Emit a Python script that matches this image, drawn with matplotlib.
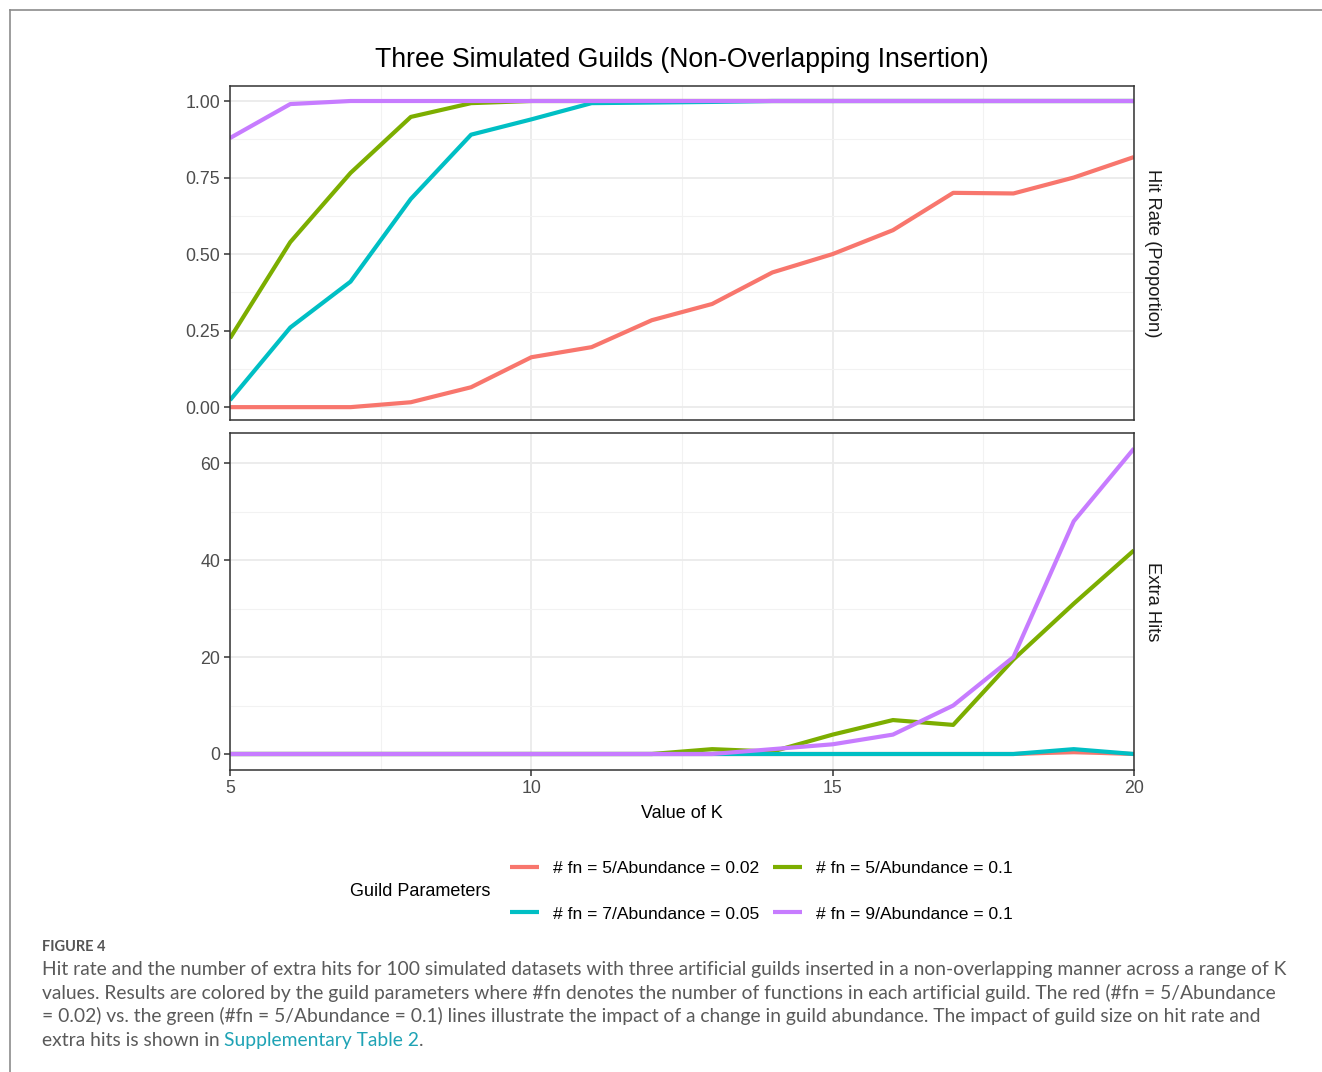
import matplotlib.pyplot as plt
from matplotlib.lines import Line2D
from matplotlib.ticker import MultipleLocator

plt.rcParams['font.family'] = ['Liberation Sans', 'DejaVu Sans']

k = list(range(5, 21))

labels = ['# fn = 5/Abundance = 0.02', '# fn = 5/Abundance = 0.1',
          '# fn = 7/Abundance = 0.05', '# fn = 9/Abundance = 0.1']
colors = ['#F8766D', '#7CAE00', '#00BFC4', '#C77CFF']

hit_red = [0, 0, 0, 0.016, 0.065, 0.163, 0.196, 0.284, 0.337, 0.44, 0.50, 0.578, 0.70, 0.698, 0.75, 0.817]
hit_green = [0.225, 0.539, 0.765, 0.948, 0.993, 1, 1, 1, 1, 1, 1, 1, 1, 1, 1, 1]
hit_cyan = [0.023, 0.26, 0.41, 0.68, 0.89, 0.94, 0.993, 0.995, 0.997, 1, 1, 1, 1, 1, 1, 1]
hit_purple = [0.879, 0.99, 1, 1, 1, 1, 1, 1, 1, 1, 1, 1, 1, 1, 1, 1]

ex_red = [0, 0, 0, 0, 0, 0, 0, 0, 0, 0, 0, 0, 0, 0, 0.4, 0]
ex_green = [0, 0, 0, 0, 0, 0, 0, 0, 1, 0.5, 4, 7, 6, 19.5, 31, 42]
ex_cyan = [0, 0, 0, 0, 0, 0, 0, 0, 0, 0, 0, 0, 0, 0, 1, 0]
ex_purple = [0, 0, 0, 0, 0, 0, 0, 0, 0, 1, 2, 4, 10, 20, 48, 63]

hits = [hit_red, hit_green, hit_cyan, hit_purple]
extras = [ex_red, ex_green, ex_cyan, ex_purple]

W, H = 1322, 1072
fig = plt.figure(figsize=(W / 100, H / 100), dpi=100)

def box(l, t, r, b):
    return [l / W, 1 - b / H, (r - l) / W, (b - t) / H]

ax1 = fig.add_axes(box(230, 86, 1134, 420))
ax2 = fig.add_axes(box(230, 433, 1134, 770))

def style(ax):
    ax.set_xlim(5, 20)
    ax.xaxis.set_major_locator(MultipleLocator(5))
    ax.xaxis.set_minor_locator(MultipleLocator(2.5))
    ax.grid(which='major', color='#EBEBEB', lw=1.3, zorder=0)
    ax.grid(which='minor', color='#F2F2F2', lw=0.8, zorder=0)
    ax.set_axisbelow(True)
    for s in ax.spines.values():
        s.set_color('#333333')
        s.set_linewidth(1.1)
    ax.tick_params(which='major', direction='out', length=4, width=1.1,
                   color='#333333', labelsize=12.8, labelcolor='#4D4D4D', pad=3)
    ax.tick_params(which='minor', length=0)

lines = []
for vals, c, lab in zip(hits, colors, labels):
    ln, = ax1.plot(k, vals, color=c, lw=3, label=lab, solid_capstyle='butt')
    lines.append(ln)
for vals, c in zip(extras, colors):
    ax2.plot(k, vals, color=c, lw=3, solid_capstyle='butt')

style(ax1)
style(ax2)
ax1.set_ylim(-0.042, 1.049)
ax1.yaxis.set_minor_locator(MultipleLocator(0.125))
ax1.set_yticks([0, 0.25, 0.5, 0.75, 1.0], ['0.00', '0.25', '0.50', '0.75', '1.00'])
ax1.tick_params(axis='x', which='both', bottom=False, labelbottom=False)

ax2.set_ylim(-3.3, 66.2)
ax2.yaxis.set_major_locator(MultipleLocator(20))
ax2.yaxis.set_minor_locator(MultipleLocator(10))
ax2.set_xticks([5, 10, 15, 20])
ax2.set_xlabel('Value of K', fontsize=13, color='black', labelpad=6)

ax1.text(1.011, 0.5, 'Hit Rate (Proportion)', transform=ax1.transAxes, rotation=-90,
         ha='left', va='center', fontsize=13.2, color='#1A1A1A')
ax2.text(1.011, 0.5, 'Extra Hits', transform=ax2.transAxes, rotation=-90,
         ha='left', va='center', fontsize=13.2, color='#1A1A1A')

fig.text(682 / W, 1 - 60 / H, 'Three Simulated Guilds (Non-Overlapping Insertion)',
         ha='center', va='center', fontsize=19.2, color='black')

# legend: ggplot byrow layout -> reorder for matplotlib column fill
order = [0, 2, 1, 3]
fig.legend([lines[i] for i in order], [labels[i] for i in order],
           ncol=2, loc='center left', bbox_to_anchor=(494 / W, 1 - 891 / H),
           frameon=False, fontsize=12.6, handlelength=1.65, handletextpad=0.8,
           columnspacing=0.8, labelspacing=1.75)
fig.text(420 / W, 1 - 891 / H, 'Guild Parameters', ha='center', va='center', fontsize=13)

# frame around the figure panel
fig.add_artist(Line2D([10 / W, 10 / W], [0, 1 - 10 / H], color='#8C8C8C', lw=1.2))
fig.add_artist(Line2D([10 / W, 1], [1 - 10 / H, 1 - 10 / H], color='#8C8C8C', lw=1.2))

# caption
cap_font = ['Lato', 'DejaVu Sans']
cap_color = '#5A5A5A'
cap_size = 13.9
fig.text(42 / W, 1 - 947 / H, 'FIGURE 4', ha='left', va='center', fontsize=10.5,
         family=cap_font, color='#555555', weight='bold')
cap_lines = [
    'Hit rate and the number of extra hits for 100 simulated datasets with three artificial guilds inserted in a non-overlapping manner across a range of K',
    'values. Results are colored by the guild parameters where #fn denotes the number of functions in each artificial guild. The red (#fn = 5/Abundance',
    '= 0.02) vs. the green (#fn = 5/Abundance = 0.1) lines illustrate the impact of a change in guild abundance. The impact of guild size on hit rate and',
]
for i, s in enumerate(cap_lines):
    fig.text(42 / W, 1 - (975 + 23.7 * i) / H, s, ha='left', va='baseline',
             fontsize=cap_size, family=cap_font, color=cap_color)
base_y = 1 - (975 + 23.7 * 3) / H
t0 = fig.text(42 / W, base_y, 'extra hits is shown in ', ha='left', va='baseline',
              fontsize=cap_size, family=cap_font, color=cap_color)
t1 = fig.text(0, base_y, 'Supplementary Table 2', fontsize=cap_size, family=cap_font,
              color='#1FA3B5', ha='left', va='baseline')
t2 = fig.text(0, base_y, '.', fontsize=cap_size, family=cap_font, color=cap_color,
              ha='left', va='baseline')

fig.canvas.draw()
r = fig.canvas.get_renderer()
t1.set_x(t0.get_window_extent(r).x1 / W)
fig.canvas.draw()
t2.set_x(t1.get_window_extent(r).x1 / W)

fig.savefig('out.png', dpi=100)
